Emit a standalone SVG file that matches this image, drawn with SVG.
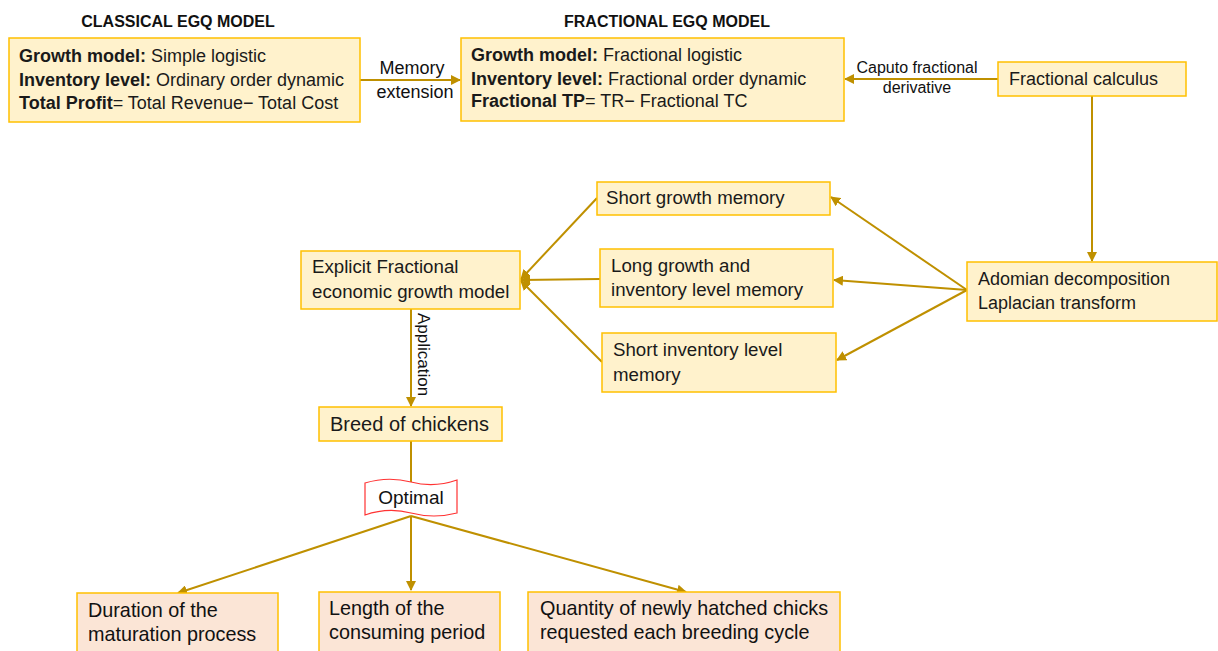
<svg xmlns="http://www.w3.org/2000/svg" width="1218" height="651" viewBox="0 0 1218 651">
<defs>
<marker id="ah" viewBox="0 0 10 10" refX="9" refY="5" markerWidth="5" markerHeight="5" orient="auto" markerUnits="strokeWidth">
<path d="M0,0 L10,5 L0,10 z" fill="#bf9000"/>
</marker>
<style>
.box{fill:#fff2cc;stroke:#ffc000;stroke-width:1.5}
.pbox{fill:#fbe5d6;stroke:#ffc000;stroke-width:1.5}
.t{font-family:"Liberation Sans",Arial,sans-serif;font-size:18px;fill:#1a1a1a}
.m{font-size:18.7px}
.big{font-size:20px}
.b{font-weight:bold}
.title{font-family:"Liberation Sans",Arial,sans-serif;font-size:16px;font-weight:bold;fill:#111;text-anchor:middle}
.lbl{font-family:"Liberation Sans",Arial,sans-serif;fill:#111}
.c{stroke:#bf9000;stroke-width:2;fill:none}
.ca{stroke:#bf9000;stroke-width:2;fill:none;marker-end:url(#ah)}
</style>
</defs>
<rect width="1218" height="651" fill="#ffffff"/>

<text class="title" x="178" y="27">CLASSICAL EGQ MODEL</text>
<text class="title" x="667" y="27">FRACTIONAL EGQ MODEL</text>

<g id="connectors">
<line class="ca" x1="360" y1="80" x2="460" y2="80"/>
<line class="ca" x1="998" y1="79" x2="845" y2="79"/>
<line class="ca" x1="1092" y1="96" x2="1092" y2="261"/>
<line class="ca" x1="967" y1="290" x2="831" y2="197"/>
<line class="ca" x1="967" y1="290" x2="834" y2="280"/>
<line class="ca" x1="967" y1="290" x2="837" y2="360"/>
<line class="ca" x1="597" y1="198" x2="521" y2="279"/>
<line class="ca" x1="600" y1="279" x2="521" y2="280"/>
<line class="ca" x1="602" y1="362" x2="521" y2="281"/>
<line class="ca" x1="411" y1="309" x2="411" y2="406"/>
<line class="c" x1="411" y1="441" x2="411" y2="482"/>
<line class="ca" x1="411" y1="516" x2="178" y2="593"/>
<line class="ca" x1="411" y1="516" x2="411" y2="590"/>
<line class="ca" x1="411" y1="516" x2="686" y2="592"/>
<text class="lbl" font-size="18" x="412" y="74" text-anchor="middle">Memory</text>
<text class="lbl" font-size="18" x="415" y="98" text-anchor="middle">extension</text>
<text class="lbl" font-size="16" x="917" y="73" text-anchor="middle">Caputo fractional</text>
<text class="lbl" font-size="16" x="917" y="93" text-anchor="middle">derivative</text>
<text class="lbl" font-size="17" x="0" y="0" transform="translate(418,313) rotate(90)">Application</text>
</g>

<g id="classical">
<rect class="box" x="9" y="38" width="351" height="84"/>
<text class="t" x="19" y="62"><tspan class="b">Growth model:</tspan> Simple logistic</text>
<text class="t" x="19" y="86"><tspan class="b">Inventory level:</tspan> Ordinary order dynamic</text>
<text class="t" x="19" y="109"><tspan class="b">Total Profit</tspan>= Total Revenue− Total Cost</text>
</g>

<g id="fractional">
<rect class="box" x="461" y="38" width="383" height="83"/>
<text class="t" x="471" y="61"><tspan class="b">Growth model:</tspan> Fractional logistic</text>
<text class="t" x="471" y="85"><tspan class="b">Inventory level:</tspan> Fractional order dynamic</text>
<text class="t" x="471" y="107"><tspan class="b">Fractional TP</tspan>= TR− Fractional TC</text>
</g>

<g id="calculus">
<rect class="box" x="998" y="62" width="188" height="34"/>
<text class="t" x="1009" y="85">Fractional calculus</text>
</g>

<g id="adomian">
<rect class="box" x="967" y="262" width="250" height="59"/>
<text class="t" x="978" y="285">Adomian decomposition</text>
<text class="t" x="978" y="309">Laplacian transform</text>
</g>

<g id="short-growth">
<rect class="box" x="597" y="182" width="233" height="33"/>
<text class="t m" x="606" y="204">Short growth memory</text>
</g>

<g id="long-growth">
<rect class="box" x="600" y="249" width="233" height="58"/>
<text class="t m" x="611" y="272">Long growth and</text>
<text class="t m" x="611" y="296">inventory level memory</text>
</g>

<g id="short-inventory">
<rect class="box" x="602" y="333" width="234" height="59"/>
<text class="t m" x="613" y="356">Short inventory level</text>
<text class="t m" x="613" y="381">memory</text>
</g>

<g id="explicit">
<rect class="box" x="301" y="251" width="219" height="58"/>
<text class="t m" x="312" y="273">Explicit Fractional</text>
<text class="t m" x="312" y="298">economic growth model</text>
</g>

<g id="breed">
<rect class="box" x="319" y="407" width="183" height="34"/>
<text class="t big" x="330" y="431">Breed of chickens</text>
</g>

<g id="optimal">
<path d="M365,483 Q388,476 411,482 T457,480 L457,513 Q434,519 411,513 T365,515 Z" fill="#ffffff" stroke="#ff3333" stroke-width="1.2"/>
<text class="lbl" font-size="19" x="411" y="504" text-anchor="middle">Optimal</text>
</g>

<g id="duration">
<rect class="pbox" x="77" y="593" width="201" height="60"/>
<text class="lbl" font-size="19.8" x="88" y="617">Duration of the</text>
<text class="lbl" font-size="19.8" x="88" y="641">maturation process</text>
</g>

<g id="length">
<rect class="pbox" x="319" y="592" width="181" height="61"/>
<text class="lbl" font-size="19.8" x="329" y="615">Length of the</text>
<text class="lbl" font-size="19.8" x="329" y="639">consuming period</text>
</g>

<g id="quantity">
<rect class="pbox" x="528" y="592" width="312" height="61"/>
<text class="lbl" font-size="19.8" x="540" y="615">Quantity of newly hatched chicks</text>
<text class="lbl" font-size="19.8" x="540" y="639">requested each breeding cycle</text>
</g>
</svg>
